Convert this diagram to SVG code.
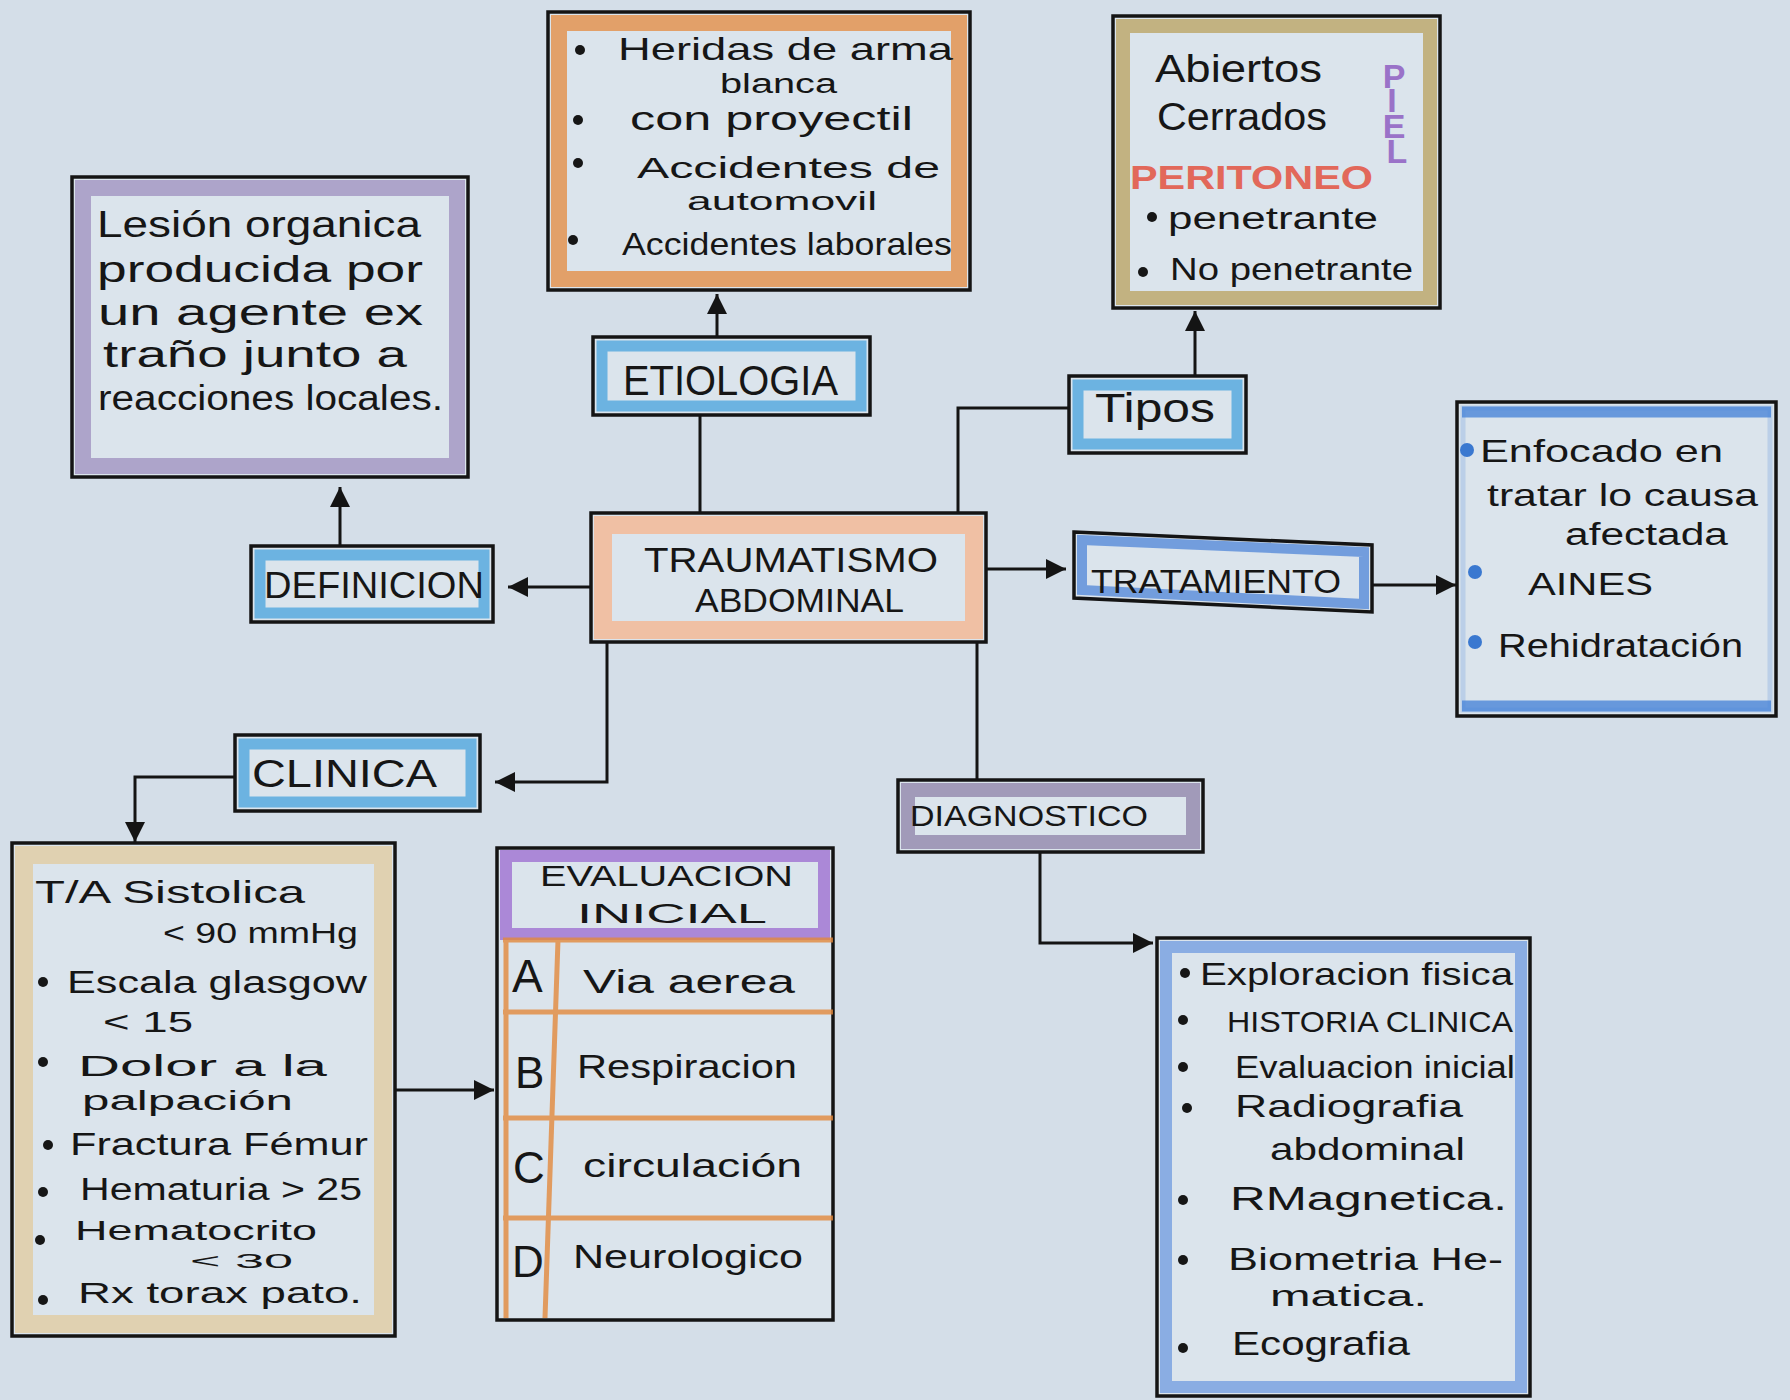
<svg xmlns="http://www.w3.org/2000/svg" width="1790" height="1400" viewBox="0 0 1790 1400">
<style>
.paper{fill:#d4dee8}
.box{fill:#dbe4ec;stroke:#141414;stroke-width:3.5}
.band{fill:none;stroke-opacity:.75}
.blue{stroke:#47a3dd;stroke-width:11}
.t{font-family:"Liberation Sans","DejaVu Sans",sans-serif;fill:#161616}
.conn{fill:none;stroke:#141414;stroke-width:3}
.dot{fill:#161616}
.bdot{fill:#3a78d0}
.or{stroke:#e2883c;stroke-width:5;fill:none;stroke-opacity:.8}
</style>
<defs>
<marker id="arr" markerUnits="userSpaceOnUse" markerWidth="22" markerHeight="20" refX="20" refY="10" orient="auto">
<path d="M0,0 L20,10 L0,20 z" fill="#141414"/>
</marker>
</defs>
<rect class="paper" x="0" y="0" width="1790" height="1400"/>

<g id="connectors">
<path class="conn" d="M700,513 V415"/>
<path class="conn" d="M717,337 V294" marker-end="url(#arr)"/>
<path class="conn" d="M958,513 V408 H1069"/>
<path class="conn" d="M1195,376 V311" marker-end="url(#arr)"/>
<path class="conn" d="M591,587 H508" marker-end="url(#arr)"/>
<path class="conn" d="M340,546 V487" marker-end="url(#arr)"/>
<path class="conn" d="M986,569 H1066" marker-end="url(#arr)"/>
<path class="conn" d="M1372,585 H1456" marker-end="url(#arr)"/>
<path class="conn" d="M607,642 V782 H495" marker-end="url(#arr)"/>
<path class="conn" d="M235,777 H135 V842" marker-end="url(#arr)"/>
<path class="conn" d="M977,642 V780"/>
<path class="conn" d="M1040,852 V943 H1153" marker-end="url(#arr)"/>
<path class="conn" d="M395,1090 H494" marker-end="url(#arr)"/>
</g>

<g id="n-definicion-content">
<rect class="box" x="72" y="177" width="396" height="300"/>
<rect class="band" x="83" y="188" width="374" height="278" stroke="#9d8fbf" stroke-width="16"/>
<text class="t" font-size="37" x="97" y="237" textLength="324" lengthAdjust="spacingAndGlyphs">Lesión organica</text>
<text class="t" font-size="37" x="97" y="282" textLength="326" lengthAdjust="spacingAndGlyphs">producida por</text>
<text class="t" font-size="36" x="98" y="325" textLength="325" lengthAdjust="spacingAndGlyphs">un agente ex</text>
<text class="t" font-size="36" x="103" y="367" textLength="304" lengthAdjust="spacingAndGlyphs">traño junto a</text>
<text class="t" font-size="35" x="98" y="410" textLength="345" lengthAdjust="spacingAndGlyphs">reacciones locales.</text>
</g>

<g id="n-etiologia-list">
<rect class="box" x="548" y="12" width="422" height="278"/>
<rect class="band" x="559" y="23" width="400" height="256" stroke="#e48a3e" stroke-width="16"/>
<circle class="dot" cx="580" cy="50" r="5"/>
<text class="t" font-size="32" x="618" y="60" textLength="335" lengthAdjust="spacingAndGlyphs">Heridas de arma</text>
<text class="t" font-size="27" x="720" y="93" textLength="117" lengthAdjust="spacingAndGlyphs">blanca</text>
<circle class="dot" cx="578" cy="120" r="5"/>
<text class="t" font-size="33" x="630" y="130" textLength="283" lengthAdjust="spacingAndGlyphs">con proyectil</text>
<circle class="dot" cx="578" cy="163" r="5"/>
<text class="t" font-size="30" x="637" y="178" textLength="303" lengthAdjust="spacingAndGlyphs">Accidentes de</text>
<text class="t" font-size="25" x="687" y="210" textLength="190" lengthAdjust="spacingAndGlyphs">automovil</text>
<circle class="dot" cx="573" cy="240" r="5"/>
<text class="t" font-size="32" x="622" y="255" textLength="330" lengthAdjust="spacingAndGlyphs">Accidentes laborales</text>
</g>

<g id="n-tipos-list">
<rect class="box" x="1113" y="16" width="327" height="292"/>
<rect class="band" x="1123" y="26" width="307" height="272" stroke="#b9a25e" stroke-width="14"/>
<text class="t" font-size="38" x="1155" y="82" textLength="167" lengthAdjust="spacingAndGlyphs">Abiertos</text>
<text class="t" font-size="38" x="1157" y="130" textLength="170" lengthAdjust="spacingAndGlyphs">Cerrados</text>
<text class="t" font-size="34" font-weight="bold" text-anchor="middle" x="1394 1392 1394 1397" y="88 112 138 163" style="fill:#9a72c8">PIEL</text>
<text class="t" font-size="34" font-weight="bold" x="1130" y="189" textLength="243" lengthAdjust="spacingAndGlyphs" style="fill:#e2685a">PERITONEO</text>
<circle class="dot" cx="1152" cy="217" r="5"/>
<text class="t" font-size="31" x="1168" y="229" textLength="210" lengthAdjust="spacingAndGlyphs">penetrante</text>
<circle class="dot" cx="1143" cy="272" r="5"/>
<text class="t" font-size="32" x="1170" y="280" textLength="243" lengthAdjust="spacingAndGlyphs">No penetrante</text>
</g>

<g id="n-etiologia">
<rect class="box" x="593" y="337" width="277" height="78"/>
<rect class="band blue" x="602" y="346" width="259" height="60"/>
<text class="t" font-size="42" x="623" y="395" textLength="215" lengthAdjust="spacingAndGlyphs">ETIOLOGIA</text>
</g>

<g id="n-tipos">
<rect class="box" x="1069" y="376" width="177" height="77"/>
<rect class="band blue" x="1078" y="385" width="159" height="59"/>
<text class="t" font-size="40" x="1095" y="422" textLength="120" lengthAdjust="spacingAndGlyphs">Tipos</text>
</g>

<g id="n-trauma">
<rect class="box" x="591" y="513" width="395" height="129"/>
<rect class="band" x="603" y="525" width="371" height="105" stroke="#f7b48c" stroke-width="18"/>
<text class="t" font-size="35" x="644" y="572" textLength="294" lengthAdjust="spacingAndGlyphs">TRAUMATISMO</text>
<text class="t" font-size="33" x="695" y="612" textLength="209" lengthAdjust="spacingAndGlyphs">ABDOMINAL</text>
</g>

<g id="n-definicion">
<rect class="box" x="251" y="546" width="242" height="76"/>
<rect class="band blue" x="260" y="555" width="224" height="58"/>
<text class="t" font-size="36" x="264" y="598" textLength="220" lengthAdjust="spacingAndGlyphs">DEFINICION</text>
</g>

<g id="n-tratamiento">
<polygon class="box" points="1074,532 1372,545 1372,612 1074,598"/>
<polygon class="band" points="1082,540 1364,552 1364,604 1082,590" stroke="#4f86d8" stroke-width="10"/>
<text class="t" font-size="33" x="1091" y="593" textLength="250" lengthAdjust="spacingAndGlyphs">TRATAMIENTO</text>
</g>

<g id="n-tratamiento-list">
<rect class="box" x="1457" y="402" width="319" height="314"/>
<rect x="1463" y="408" width="307" height="302" style="fill:none;stroke:#5a8edc;stroke-width:5;stroke-opacity:.25"/>
<path d="M1462,412 H1771 M1462,706 H1771" stroke="#4a84d8" stroke-width="11" stroke-opacity=".8" fill="none"/>
<circle class="bdot" cx="1467" cy="450" r="7"/>
<text class="t" font-size="32" x="1480" y="462" textLength="243" lengthAdjust="spacingAndGlyphs">Enfocado en</text>
<text class="t" font-size="32" x="1487" y="506" textLength="271" lengthAdjust="spacingAndGlyphs">tratar lo causa</text>
<text class="t" font-size="31" x="1565" y="545" textLength="163" lengthAdjust="spacingAndGlyphs">afectada</text>
<circle class="bdot" cx="1475" cy="572" r="7"/>
<text class="t" font-size="32" x="1528" y="595" textLength="125" lengthAdjust="spacingAndGlyphs">AINES</text>
<circle class="bdot" cx="1475" cy="642" r="7"/>
<text class="t" font-size="33" x="1498" y="657" textLength="245" lengthAdjust="spacingAndGlyphs">Rehidratación</text>
</g>

<g id="n-clinica">
<rect class="box" x="235" y="735" width="245" height="76"/>
<rect class="band blue" x="244" y="744" width="227" height="58"/>
<text class="t" font-size="38" x="252" y="787" textLength="185" lengthAdjust="spacingAndGlyphs">CLINICA</text>
</g>

<g id="n-diagnostico">
<rect class="box" x="898" y="780" width="305" height="72"/>
<rect class="band" x="908" y="790" width="285" height="52" stroke="#8e82a8" stroke-width="14"/>
<text class="t" font-size="30" x="910" y="826" textLength="238" lengthAdjust="spacingAndGlyphs">DIAGNOSTICO</text>
</g>

<g id="n-clinica-list">
<rect class="box" x="12" y="843" width="383" height="493"/>
<rect class="band" x="24" y="855" width="359" height="469" stroke="#e2cb9d" stroke-width="18"/>
<text class="t" font-size="32" x="35" y="903" textLength="270" lengthAdjust="spacingAndGlyphs">T/A Sistolica</text>
<text class="t" font-size="29" x="163" y="943" textLength="195" lengthAdjust="spacingAndGlyphs">&lt; 90 mmHg</text>
<circle class="dot" cx="43" cy="982" r="5"/>
<text class="t" font-size="31" x="67" y="993" textLength="300" lengthAdjust="spacingAndGlyphs">Escala glasgow</text>
<text class="t" font-size="29" x="103" y="1032" textLength="90" lengthAdjust="spacingAndGlyphs">&lt; 15</text>
<circle class="dot" cx="43" cy="1062" r="5"/>
<text class="t" font-size="29" x="78" y="1076" textLength="249" lengthAdjust="spacingAndGlyphs">Dolor a la</text>
<text class="t" font-size="27" x="82" y="1110" textLength="211" lengthAdjust="spacingAndGlyphs">palpación</text>
<circle class="dot" cx="48" cy="1145" r="5"/>
<text class="t" font-size="31" x="70" y="1155" textLength="298" lengthAdjust="spacingAndGlyphs">Fractura Fémur</text>
<circle class="dot" cx="43" cy="1192" r="5"/>
<text class="t" font-size="31" x="80" y="1200" textLength="282" lengthAdjust="spacingAndGlyphs">Hematuria &gt; 25</text>
<circle class="dot" cx="40" cy="1240" r="5"/>
<text class="t" font-size="27" x="75" y="1240" textLength="242" lengthAdjust="spacingAndGlyphs">Hematocrito</text>
<text class="t" font-size="21" x="190" y="1268" textLength="103" lengthAdjust="spacingAndGlyphs">&lt; 30</text>
<circle class="dot" cx="43" cy="1300" r="5"/>
<text class="t" font-size="30" x="78" y="1303" textLength="284" lengthAdjust="spacingAndGlyphs">Rx torax pato.</text>
</g>

<g id="n-evaluacion">
<rect class="box" x="497" y="848" width="336" height="472"/>
<rect class="band" x="506" y="856" width="318" height="78" stroke="#9b6ad0" stroke-width="12"/>
<path class="or" d="M503,940 H833 M503,1012 H833 M503,1118 H833 M503,1218 H833 M506,940 V1318 M558,940 L545,1318"/>
<text class="t" font-size="29" x="540" y="886" textLength="253" lengthAdjust="spacingAndGlyphs">EVALUACION</text>
<text class="t" font-size="28" x="577" y="923" textLength="190" lengthAdjust="spacingAndGlyphs">INICIAL</text>
<text class="t" font-size="46" x="512" y="992">A</text>
<text class="t" font-size="34" x="583" y="993" textLength="212" lengthAdjust="spacingAndGlyphs">Via aerea</text>
<text class="t" font-size="44" x="515" y="1088">B</text>
<text class="t" font-size="34" x="577" y="1078" textLength="220" lengthAdjust="spacingAndGlyphs">Respiracion</text>
<text class="t" font-size="44" x="513" y="1183">C</text>
<text class="t" font-size="34" x="583" y="1177" textLength="219" lengthAdjust="spacingAndGlyphs">circulación</text>
<text class="t" font-size="44" x="512" y="1277">D</text>
<text class="t" font-size="34" x="573" y="1268" textLength="230" lengthAdjust="spacingAndGlyphs">Neurologico</text>
</g>

<g id="n-diagnostico-list">
<rect class="box" x="1157" y="938" width="373" height="458"/>
<rect class="band" x="1166" y="947" width="355" height="440" stroke="#6f9be0" stroke-width="12"/>
<circle class="dot" cx="1185" cy="973" r="5"/>
<text class="t" font-size="32" x="1200" y="985" textLength="313" lengthAdjust="spacingAndGlyphs">Exploracion fisica</text>
<circle class="dot" cx="1183" cy="1020" r="5"/>
<text class="t" font-size="29" x="1227" y="1032" textLength="286" lengthAdjust="spacingAndGlyphs">HISTORIA CLINICA</text>
<circle class="dot" cx="1183" cy="1067" r="5"/>
<text class="t" font-size="31" x="1235" y="1078" textLength="280" lengthAdjust="spacingAndGlyphs">Evaluacion inicial</text>
<circle class="dot" cx="1187" cy="1108" r="5"/>
<text class="t" font-size="32" x="1235" y="1117" textLength="228" lengthAdjust="spacingAndGlyphs">Radiografia</text>
<text class="t" font-size="32" x="1270" y="1160" textLength="195" lengthAdjust="spacingAndGlyphs">abdominal</text>
<circle class="dot" cx="1183" cy="1200" r="5"/>
<text class="t" font-size="34" x="1230" y="1210" textLength="277" lengthAdjust="spacingAndGlyphs">RMagnetica.</text>
<circle class="dot" cx="1183" cy="1260" r="5"/>
<text class="t" font-size="31" x="1228" y="1270" textLength="275" lengthAdjust="spacingAndGlyphs">Biometria He-</text>
<text class="t" font-size="29" x="1270" y="1306" textLength="157" lengthAdjust="spacingAndGlyphs">matica.</text>
<circle class="dot" cx="1183" cy="1348" r="5"/>
<text class="t" font-size="33" x="1232" y="1355" textLength="178" lengthAdjust="spacingAndGlyphs">Ecografia</text>
</g>
</svg>
